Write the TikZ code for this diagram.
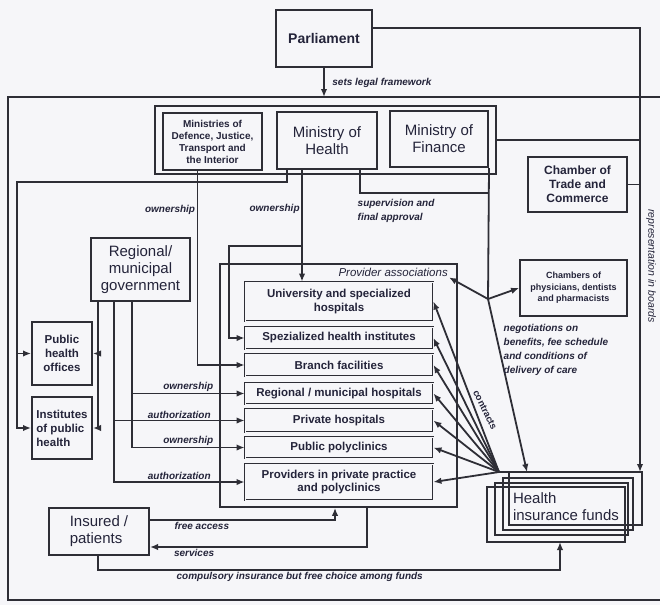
\documentclass[tikz,border=0pt]{standalone}
\usepackage{fontspec}
\setmainfont{Liberation Sans}
\usetikzlibrary{calc,arrows.meta,positioning}

\definecolor{ink}{RGB}{46,46,54}
\definecolor{txt}{RGB}{36,36,58}
\definecolor{paper}{RGB}{246,246,249}
\newcommand\fsz[2]{\fontsize{#1}{#2}\selectfont}

\begin{document}
\begin{tikzpicture}[x=1pt,y=-1pt,
	box/.style={draw=ink, line width=2pt, fill=paper, inner sep=1pt, align=center, text=txt},
	prov/.style={box, double=paper, double distance=0.9pt, line width=0.9pt,
		minimum width=188pt, font=\fsz{11.5}{13.5}\bfseries},
	lbl/.style={font=\fsz{10}{14}\bfseries\itshape, text=txt, inner sep=1.5pt},
	link/.style={draw=ink, line width=1.8pt},
	arr/.style={link, -{Latex[length=8pt,width=6.5pt]}}]
	\fill[paper] (0,0) rectangle (660,605);
	\useasboundingbox (0,0) rectangle (660,605);

	% frame of the health system
	\path (8,97) coordinate (ftl);
	\path (8,600) coordinate (fbl);
	\draw[link, line width=2pt] (660,97) -- (ftl) -- (fbl) -- (660,600);

	\node[box, minimum width=96pt, minimum height=57pt, font=\fsz{14}{16}\bfseries] (parl) at (324,38.5) {Parliament};

	% ministries
	\node[draw=ink, line width=2pt, minimum width=341pt, minimum height=68pt] (mgrp) at (325.5,140) {};
	\node[box, minimum width=99pt, minimum height=57pt, font=\fsz{10}{12}\bfseries] (mdef) at (212.5,141.5) {Ministries of\\Defence, Justice,\\Transport and\\the Interior};
	\node[box, minimum width=100pt, minimum height=57pt, font=\fsz{15}{17}] (mhealth) at (327,140.5) {Ministry of\\Health};
	\node[box, minimum width=98pt, minimum height=56pt, font=\fsz{15}{17}] (mfin) at (439,139) {Ministry of\\Finance};

	\node[box, minimum width=99pt, minimum height=55pt, font=\fsz{12}{14}\bfseries] (trade) at (577.5,184.5) {Chamber of\\Trade and\\Commerce};
	\node[box, minimum width=99pt, minimum height=63pt, font=\fsz{15}{17}] (regional) at (140.5,269.5) {Regional/\\municipal\\government};
	\node[box, minimum width=60pt, minimum height=63pt, font=\fsz{11.5}{14}\bfseries] (phoff) at (62,353.5) {Public\\health\\offices};
	\node[box, minimum width=60pt, minimum height=62pt, align=left, font=\fsz{11.5}{14}\bfseries] (inst) at (62,428) {Institutes\\of public\\health};
	\node[box, minimum width=107pt, minimum height=56pt, font=\fsz{9}{11.5}\bfseries] (physic) at (573.5,288) {Chambers of\\physicians, dentists\\and pharmacists};

	% providers
	\node[draw=ink, line width=1.8pt, minimum width=237pt, minimum height=243pt] (provgrp) at (338.5,385.5) {};
	\node[anchor=east, inner sep=1pt, text=txt, font=\fsz{11.5}{13}\itshape] (assoc) at (449,272) {Provider associations};
	\node[prov, minimum height=39pt] (uni) at (339,301.5) {University and specialized\\hospitals};
	\node[prov, minimum height=22pt] (spez) at (339,338) {Spezialized health institutes};
	\node[prov, minimum height=22pt] (branch) at (339,365) {Branch facilities};
	\node[prov, minimum height=21pt] (reghosp) at (339,393.5) {Regional / municipal hospitals};
	\node[prov, minimum height=23pt] (privhosp) at (339,420.5) {Private hospitals};
	\node[prov, minimum height=21pt] (pubpoly) at (339,447.5) {Public polyclinics};
	\node[prov, minimum height=36pt] (privprac) at (339,482) {Providers in private practice\\and polyclinics};

	\node[box, minimum width=100pt, minimum height=47pt, align=left, font=\fsz{15}{17}] (insured) at (99,531.5) {Insured /\\patients};

	% stacked frames of the funds
	\draw[ink, line width=1.8pt] (509,472) rectangle (642,525);
	\draw[ink, line width=1.8pt] (503,478) rectangle (633,530);
	\draw[ink, line width=1.8pt] (495,483) rectangle (628,535);
	\draw[ink, line width=1.8pt] (487,487) rectangle (625,542);
	\node[align=left, text=txt, inner sep=0pt, font=\fsz{15}{17}] (funds) at (566,507) {Health\\insurance funds};

	\path (640,28) coordinate (rbt);
	\path (640,472) coordinate (rbb);
	\path (17,182) coordinate (lbus);
	\path (302,246) coordinate (sbr);
	\path (229,246) coordinate (sbl);
	\path (360,193) coordinate (sup);
	\path (488,299) coordinate (jn);
	\path (527,472) coordinate (fnd1);
	\path (560,542) coordinate (fnd2);
	\path (499,472) coordinate (hub);
	\path (98,301) coordinate (rgA);
	\path (114,301) coordinate (rgB);
	\path (132,301) coordinate (rgC);
	\path (335,520) coordinate (fa);
	\path (367,547) coordinate (sv);
	\path (98,570) coordinate (cp);
	\path (560,570) coordinate (cpr);

	\draw[arr] (parl.south) -- node[lbl, midway, right=6pt] {sets legal framework} (parl.south |- ftl);
	\draw[arr] (parl.east |- rbt) -- (rbt) -- (rbb);
	\node[rotate=-90, text=txt, font=\fsz{10.5}{12}\itshape] (repr) at (651,266) {representation in boards};
	\draw[link] (mgrp.east) -- (mgrp.east -| rbt);
	\draw[link] (trade.east) -- (trade.east -| rbt);

	% ministry of health
	\draw[arr] ([xshift=-40pt]mhealth.south) |- (lbus) |- (inst.west);
	\draw[arr] (lbus |- phoff.west) -- (phoff.west);
	\draw[arr] (sbr |- mhealth.south) -- node[lbl, pos=0.35, left] {ownership} (sbr |- uni.north);
	\draw[arr] (sbr) -- (sbl) |- (spez.west);
	\draw[arr] ([xshift=-15pt]mdef.south) |- node[lbl, pos=0.1, left] {ownership} (branch.west);
	\draw[link] (sup |- mhealth.south) |- (jn |- sup);
	\draw[link] (mfin.south east) -- (jn);
	\node[lbl, anchor=north west, align=left] (suplbl) at (356,198) {supervision and\\final approval};

	% negotiations
	\draw[arr] (jn) -- (assoc.south east);
	\draw[arr] (jn) -- (physic.west);
	\draw[arr] (jn) -- (fnd1);
	\node[lbl, anchor=north west, align=left] (nego) at (502,323) {negotiations on\\benefits, fee schedule\\and conditions of\\delivery of care};

	% contracts
	\draw[link] (hub) -- (hub -| 509,0);
	\foreach \p in {uni,spez,branch,reghosp,privhosp,pubpoly,privprac}
		\draw[arr] (hub) -- (\p.east);
	\node[rotate=-64, text=txt, inner sep=0.5pt, font=\fsz{9.5}{11}\bfseries] (contr) at (485,410) {contracts};

	% regional government
	\draw[arr] (rgA) |- (inst.east);
	\draw[arr] (rgA |- phoff.east) -- (phoff.east);
	\draw[arr] (rgC |- reghosp.west) -- node[lbl, midway, above] {ownership} (reghosp.west);
	\draw[arr] (rgB |- privhosp.west) -- node[lbl, midway, above] {authorization} (privhosp.west);
	\draw[arr] (rgC) |- node[lbl, pos=0.75, above] {ownership} (pubpoly.west);
	\draw[arr] (rgB) |- node[lbl, pos=0.75, above] {authorization} (privprac.west);

	% patients
	\draw[arr] (insured.east |- fa) -- node[lbl, pos=0.12, below right] {free access} (fa) -- (fa |- provgrp.south);
	\draw[arr] (sv |- provgrp.south) -- (sv) -- node[lbl, pos=0.9, below right] {services} (sv -| insured.east);
	\draw[arr] (cp |- insured.south) -- (cp) -- node[lbl, pos=0.165, below right] {compulsory insurance but free choice among funds} (cpr) -- (fnd2);
\end{tikzpicture}
\end{document}
